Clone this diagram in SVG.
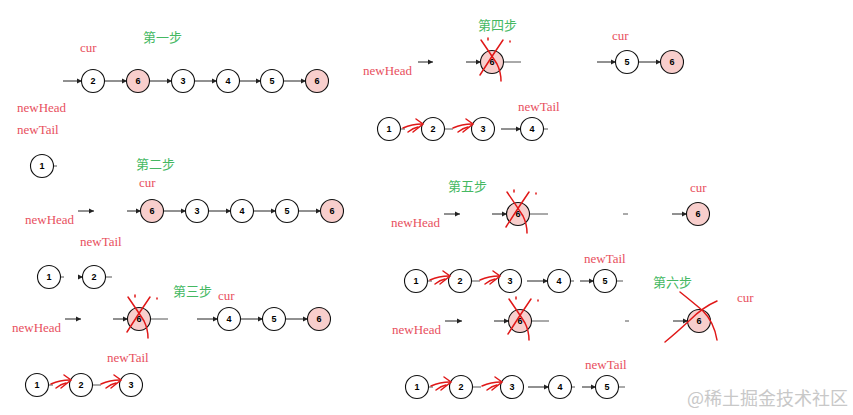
<svg xmlns="http://www.w3.org/2000/svg" xmlns:xlink="http://www.w3.org/1999/xlink" width="853" height="415" viewBox="0 0 853 415">
<style>
.n{fill:#fff;stroke:#111;stroke-width:1.1}
.r{fill:#f8cecc;stroke:#111;stroke-width:1.1}
.t{font-family:"Liberation Sans",Arial,sans-serif;font-weight:bold;font-size:9px;fill:#000;text-anchor:middle}
.e{stroke:#222;stroke-width:1;fill:none}
.s{stroke:#555;stroke-width:1;fill:none}
.lbl{font-family:"Liberation Serif","Times New Roman",serif;font-size:13px;fill:#e8505e}
.step{font-family:"Noto Sans CJK SC",sans-serif;font-size:13px;fill:#45b862}
.hx{stroke:#e01818;stroke-width:1.5;fill:none;stroke-linecap:round}
.wm{font-family:"Noto Sans CJK SC",sans-serif;font-size:18px;fill:#c8c8c8}
</style>
<defs>
<marker id="ah" markerWidth="6" markerHeight="6" refX="5" refY="3" orient="auto" markerUnits="userSpaceOnUse">
<path d="M0,0.5 L5,3 L0,5.5 z" fill="#222"/>
</marker>
<g id="xm">
<path class="hx" d="M-11,-22 Q0,-6 5,2 Q9,10 9,19"/>
<path class="hx" d="M11,-22 Q0,-6 -12,13"/>
<path class="hx" d="M-4,-24 L-4,-22"/>
<path class="hx" d="M18,-21 L18,-20"/>
</g>
<g id="ra">
<path class="hx" d="M-19,-1 Q-10,-5 0,-5"/>
<path class="hx" d="M-14,3 Q-9,-1 -4,-2"/>
<path class="hx" d="M-6,-10 L1,-5 L-9,3"/>
</g>
</defs>

<!-- labels -->
<g id="labels">
<text class="step" x="143" y="42">第一步</text>
<text class="lbl" x="80" y="52">cur</text>
<text class="lbl" x="17" y="112">newHead</text>
<text class="lbl" x="17" y="134">newTail</text>

<text class="step" x="136" y="169">第二步</text>
<text class="lbl" x="139" y="187">cur</text>
<text class="lbl" x="25" y="224">newHead</text>
<text class="lbl" x="80" y="246">newTail</text>

<text class="step" x="173" y="296">第三步</text>
<text class="lbl" x="218" y="300">cur</text>
<text class="lbl" x="12" y="332">newHead</text>
<text class="lbl" x="107" y="362">newTail</text>

<text class="step" x="478" y="30">第四步</text>
<text class="lbl" x="612" y="40">cur</text>
<text class="lbl" x="363" y="75">newHead</text>
<text class="lbl" x="518" y="111">newTail</text>

<text class="step" x="448" y="191">第五步</text>
<text class="lbl" x="690" y="192">cur</text>
<text class="lbl" x="391" y="227">newHead</text>
<text class="lbl" x="584" y="263">newTail</text>

<text class="step" x="653" y="287">第六步</text>
<text class="lbl" x="737" y="302">cur</text>
<text class="lbl" x="392" y="334">newHead</text>
<text class="lbl" x="585" y="369">newTail</text>

<text class="wm" x="687" y="405">@稀土掘金技术社区</text>
</g>

<!-- connectors -->
<g id="connectors">
<!-- step 1 -->
<line class="e" x1="63" y1="81" x2="82" y2="81" marker-end="url(#ah)"/>
<line class="e" x1="104" y1="81" x2="127" y2="81" marker-end="url(#ah)"/>
<line class="e" x1="149" y1="81" x2="172" y2="81" marker-end="url(#ah)"/>
<line class="e" x1="194" y1="81" x2="217" y2="81" marker-end="url(#ah)"/>
<line class="e" x1="239" y1="81" x2="261" y2="81" marker-end="url(#ah)"/>
<line class="e" x1="283" y1="81" x2="306" y2="81" marker-end="url(#ah)"/>
<!-- step 2 -->
<line class="s" x1="53" y1="166" x2="57" y2="166"/>
<line class="e" x1="78" y1="211" x2="94" y2="211" marker-end="url(#ah)"/>
<line class="e" x1="127" y1="211" x2="141" y2="211" marker-end="url(#ah)"/>
<line class="e" x1="163" y1="211" x2="186" y2="211" marker-end="url(#ah)"/>
<line class="e" x1="208" y1="211" x2="231" y2="211" marker-end="url(#ah)"/>
<line class="e" x1="253" y1="211" x2="276" y2="211" marker-end="url(#ah)"/>
<line class="e" x1="298" y1="211" x2="321" y2="211" marker-end="url(#ah)"/>
<line class="s" x1="60" y1="277" x2="64" y2="277"/>
<line class="e" x1="80" y1="277" x2="83" y2="277" marker-end="url(#ah)"/>
<line class="s" x1="105" y1="277" x2="112" y2="277"/>
<!-- step 3 -->
<line class="e" x1="65" y1="319" x2="81" y2="319" marker-end="url(#ah)"/>
<line class="e" x1="113" y1="319" x2="128" y2="319" marker-end="url(#ah)"/>
<line class="s" x1="150" y1="319" x2="168" y2="319"/>
<line class="e" x1="197" y1="319" x2="218" y2="319" marker-end="url(#ah)"/>
<line class="e" x1="240" y1="319" x2="263" y2="319" marker-end="url(#ah)"/>
<line class="e" x1="285" y1="319" x2="308" y2="319" marker-end="url(#ah)"/>
<line class="s" x1="48" y1="385" x2="53" y2="385"/>
<line class="s" x1="92" y1="385" x2="101" y2="385"/>
<!-- step 4 -->
<line class="e" x1="418" y1="62" x2="433" y2="62" marker-end="url(#ah)"/>
<line class="e" x1="466" y1="62" x2="481" y2="62" marker-end="url(#ah)"/>
<line class="s" x1="503" y1="62" x2="521" y2="62"/>
<line class="e" x1="597" y1="62" x2="616" y2="62" marker-end="url(#ah)"/>
<line class="e" x1="638" y1="62" x2="661" y2="62" marker-end="url(#ah)"/>
<line class="s" x1="400" y1="129" x2="405" y2="129"/>
<line class="s" x1="444" y1="129" x2="453" y2="129"/>
<line class="e" x1="501" y1="129" x2="521" y2="129" marker-end="url(#ah)"/>
<line class="s" x1="543" y1="129" x2="548" y2="129"/>
<!-- step 5 -->
<line class="e" x1="444" y1="214" x2="460" y2="214" marker-end="url(#ah)"/>
<line class="e" x1="492" y1="214" x2="507" y2="214" marker-end="url(#ah)"/>
<line class="s" x1="529" y1="214" x2="548" y2="214"/>
<line class="s" x1="623" y1="214" x2="628" y2="214"/>
<line class="e" x1="672" y1="214" x2="687" y2="214" marker-end="url(#ah)"/>
<line class="s" x1="427" y1="281" x2="432" y2="281"/>
<line class="s" x1="471" y1="281" x2="480" y2="281"/>
<line class="e" x1="527" y1="281" x2="548" y2="281" marker-end="url(#ah)"/>
<line class="s" x1="570" y1="281" x2="574" y2="281"/>
<line class="e" x1="580" y1="281" x2="594" y2="281" marker-end="url(#ah)"/>
<line class="s" x1="616" y1="281" x2="623" y2="281"/>
<!-- step 6 -->
<line class="e" x1="445" y1="321" x2="462" y2="321" marker-end="url(#ah)"/>
<line class="e" x1="494" y1="321" x2="509" y2="321" marker-end="url(#ah)"/>
<line class="s" x1="531" y1="321" x2="549" y2="321"/>
<line class="s" x1="625" y1="321" x2="629" y2="321"/>
<line class="e" x1="673" y1="321" x2="688" y2="321" marker-end="url(#ah)"/>
<line class="s" x1="428" y1="387" x2="433" y2="387"/>
<line class="s" x1="472" y1="387" x2="481" y2="387"/>
<line class="e" x1="528" y1="387" x2="549" y2="387" marker-end="url(#ah)"/>
<line class="s" x1="571" y1="387" x2="575" y2="387"/>
<line class="e" x1="582" y1="387" x2="596" y2="387" marker-end="url(#ah)"/>
<line class="s" x1="618" y1="387" x2="625" y2="387"/>
</g>

<!-- nodes -->
<g id="s1-n2"><circle class="n" cx="93" cy="81" r="11.5"/><text class="t" x="93" y="84">2</text></g>
<g id="s1-n6a"><circle class="r" cx="138" cy="81" r="11.5"/><text class="t" x="138" y="84">6</text></g>
<g id="s1-n3"><circle class="n" cx="183" cy="81" r="11.5"/><text class="t" x="183" y="84">3</text></g>
<g id="s1-n4"><circle class="n" cx="228" cy="81" r="11.5"/><text class="t" x="228" y="84">4</text></g>
<g id="s1-n5"><circle class="n" cx="272" cy="81" r="11.5"/><text class="t" x="272" y="84">5</text></g>
<g id="s1-n6b"><circle class="r" cx="317" cy="81" r="11.5"/><text class="t" x="317" y="84">6</text></g>

<g id="s2-n1"><circle class="n" cx="42" cy="166" r="11.5"/><text class="t" x="42" y="169">1</text></g>
<g id="s2-n6a"><circle class="r" cx="152" cy="211" r="11.5"/><text class="t" x="152" y="214">6</text></g>
<g id="s2-n3"><circle class="n" cx="197" cy="211" r="11.5"/><text class="t" x="197" y="214">3</text></g>
<g id="s2-n4"><circle class="n" cx="242" cy="211" r="11.5"/><text class="t" x="242" y="214">4</text></g>
<g id="s2-n5"><circle class="n" cx="287" cy="211" r="11.5"/><text class="t" x="287" y="214">5</text></g>
<g id="s2-n6b"><circle class="r" cx="332" cy="211" r="11.5"/><text class="t" x="332" y="214">6</text></g>
<g id="s2-b1"><circle class="n" cx="49" cy="277" r="11.5"/><text class="t" x="49" y="280">1</text></g>
<g id="s2-b2"><circle class="n" cx="94" cy="277" r="11.5"/><text class="t" x="94" y="280">2</text></g>

<g id="s3-n6a"><circle class="r" cx="139" cy="319" r="11.5"/><text class="t" x="139" y="322">6</text><use xlink:href="#xm" transform="translate(139,319)"/></g>
<g id="s3-n4"><circle class="n" cx="229" cy="319" r="11.5"/><text class="t" x="229" y="322">4</text></g>
<g id="s3-n5"><circle class="n" cx="274" cy="319" r="11.5"/><text class="t" x="274" y="322">5</text></g>
<g id="s3-n6b"><circle class="r" cx="319" cy="319" r="11.5"/><text class="t" x="319" y="322">6</text></g>
<g id="s3-b1"><circle class="n" cx="37" cy="385" r="11.5"/><text class="t" x="37" y="388">1</text></g>
<g id="s3-b2"><circle class="n" cx="81" cy="385" r="11.5"/><text class="t" x="81" y="388">2</text></g>
<g id="s3-b3"><circle class="n" cx="131" cy="385" r="11.5"/><text class="t" x="131" y="388">3</text></g>

<g id="s4-n6a"><circle class="r" cx="492" cy="62" r="11.5"/><text class="t" x="492" y="65">6</text><use xlink:href="#xm" transform="translate(492,62)"/></g>
<g id="s4-n5"><circle class="n" cx="627" cy="62" r="11.5"/><text class="t" x="627" y="65">5</text></g>
<g id="s4-n6b"><circle class="r" cx="672" cy="62" r="11.5"/><text class="t" x="672" y="65">6</text></g>
<g id="s4-b1"><circle class="n" cx="389" cy="129" r="11.5"/><text class="t" x="389" y="132">1</text></g>
<g id="s4-b2"><circle class="n" cx="433" cy="129" r="11.5"/><text class="t" x="433" y="132">2</text></g>
<g id="s4-b3"><circle class="n" cx="483" cy="129" r="11.5"/><text class="t" x="483" y="132">3</text></g>
<g id="s4-b4"><circle class="n" cx="532" cy="129" r="11.5"/><text class="t" x="532" y="132">4</text></g>

<g id="s5-n6a"><circle class="r" cx="518" cy="214" r="11.5"/><text class="t" x="518" y="217">6</text><use xlink:href="#xm" transform="translate(518,214)"/></g>
<g id="s5-n6b"><circle class="r" cx="698" cy="214" r="11.5"/><text class="t" x="698" y="217">6</text></g>
<g id="s5-b1"><circle class="n" cx="416" cy="281" r="11.5"/><text class="t" x="416" y="284">1</text></g>
<g id="s5-b2"><circle class="n" cx="460" cy="281" r="11.5"/><text class="t" x="460" y="284">2</text></g>
<g id="s5-b3"><circle class="n" cx="510" cy="281" r="11.5"/><text class="t" x="510" y="284">3</text></g>
<g id="s5-b4"><circle class="n" cx="559" cy="281" r="11.5"/><text class="t" x="559" y="284">4</text></g>
<g id="s5-b5"><circle class="n" cx="605" cy="281" r="11.5"/><text class="t" x="605" y="284">5</text></g>

<g id="s6-n6a"><circle class="r" cx="520" cy="321" r="11.5"/><text class="t" x="520" y="324">6</text><use xlink:href="#xm" transform="translate(520,321)"/></g>
<g id="s6-n6b"><circle class="r" cx="699" cy="321" r="11.5"/><text class="t" x="699" y="324">6</text>
<path class="hx" d="M680,292 Q695,304 703,311 Q714,322 717,340"/>
<path class="hx" d="M717,301 Q703,307 690,320 Q676,333 665,342"/></g>
<g id="s6-b1"><circle class="n" cx="417" cy="387" r="11.5"/><text class="t" x="417" y="390">1</text></g>
<g id="s6-b2"><circle class="n" cx="461" cy="387" r="11.5"/><text class="t" x="461" y="390">2</text></g>
<g id="s6-b3"><circle class="n" cx="512" cy="387" r="11.5"/><text class="t" x="512" y="390">3</text></g>
<g id="s6-b4"><circle class="n" cx="560" cy="387" r="11.5"/><text class="t" x="560" y="390">4</text></g>
<g id="s6-b5"><circle class="n" cx="607" cy="387" r="11.5"/><text class="t" x="607" y="390">5</text></g>

<!-- hand-drawn red arrows -->
<g id="red-arrows">
<use xlink:href="#ra" transform="translate(70,385)"/>
<use xlink:href="#ra" transform="translate(120,385)"/>
<use xlink:href="#ra" transform="translate(422,129)"/>
<use xlink:href="#ra" transform="translate(472,129)"/>
<use xlink:href="#ra" transform="translate(449,281)"/>
<use xlink:href="#ra" transform="translate(499,281)"/>
<use xlink:href="#ra" transform="translate(450,387)"/>
<use xlink:href="#ra" transform="translate(501,387)"/>
</g>
</svg>
